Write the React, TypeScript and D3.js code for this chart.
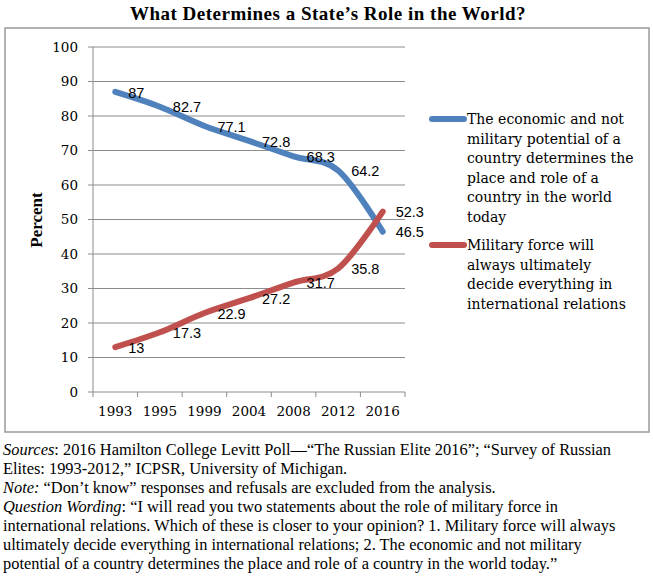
import React from 'react';
import * as d3 from 'd3';

const years = ['1993', '1995', '1999', '2004', '2008', '2012', '2016'];
const economic = [87, 82.7, 77.1, 72.8, 68.3, 64.2, 46.5];
const military = [13, 17.3, 22.9, 27.2, 31.7, 35.8, 52.3];
const yTicks = [0, 10, 20, 30, 40, 50, 60, 70, 80, 90, 100];

const economicLegend = [
  'The economic and not',
  'military potential of a',
  'country determines the',
  'place and role of a',
  'country in the world',
  'today',
];
const militaryLegend = [
  'Military force will',
  'always ultimately',
  'decide everything in',
  'international relations',
];

const BLUE = '#4F81BD';
const RED = '#C0504D';
const GRID = '#8c8c8c';

export default function App() {
  const width = 653;
  const height = 579;

  const x = d3.scalePoint<string>().domain(years).range([93, 405]).padding(0.5);
  const y = d3.scaleLinear().domain([0, 100]).range([392, 47]);
  const step = x.step();

  const line = d3
    .line<number>()
    .x((_, i) => x(years[i]) as number)
    .y(d => y(d))
    .curve(d3.curveCardinal.tension(0));

  const serif = '"Liberation Serif", "Times New Roman", serif';
  const tickFont = '"DejaVu Serif", serif';
  const labelFont = '"Liberation Sans", Arial, sans-serif';

  const series = [
    { values: economic, color: BLUE },
    { values: military, color: RED },
  ];

  return (
    <div style={{ position: 'absolute', left: 0, top: 0 }}>
      <svg width={width} height={height} style={{ display: 'block' }}>
        <rect width={width} height={height} fill="#fff" />
        <text
          x={328}
          y={20}
          textAnchor="middle"
          fontFamily={serif}
          fontWeight="bold"
          fontSize={19}
          letterSpacing={0.5}
        >
          What Determines a State’s Role in the World?
        </text>
        <rect x={5} y={28} width={644} height={404} fill="none" stroke="#9a9a9a" strokeWidth={1.5} />

        {/* grid + y ticks */}
        {yTicks.map(t => (
          <g key={t}>
            <line x1={88} x2={405} y1={y(t)} y2={y(t)} stroke={GRID} strokeWidth={1} />
            <text x={78} y={y(t)} dy="0.36em" textAnchor="end" fontFamily={tickFont} fontSize={13.5} fill="#000">
              {t}
            </text>
          </g>
        ))}
        <line x1={93} x2={93} y1={y(100)} y2={y(0)} stroke={GRID} strokeWidth={1} />

        {/* x ticks */}
        {years.map((yr, i) => (
          <g key={yr}>
            <line
              x1={93 + step * (i + 1)}
              x2={93 + step * (i + 1)}
              y1={y(0)}
              y2={y(0) + 5}
              stroke={GRID}
            />
            <text x={x(yr)} y={416} textAnchor="middle" fontFamily={tickFont} fontSize={13.5}>
              {yr}
            </text>
          </g>
        ))}
        <line x1={93} x2={93} y1={y(0)} y2={y(0) + 5} stroke={GRID} />

        <text
          transform="translate(42,220) rotate(-90)"
          textAnchor="middle"
          fontFamily={serif}
          fontWeight="bold"
          fontSize={17}
        >
          Percent
        </text>

        {/* lines */}
        {series.map(s => (
          <path
            key={s.color}
            d={line(s.values) || ''}
            fill="none"
            stroke={s.color}
            strokeWidth={6}
            strokeLinecap="round"
          />
        ))}

        {/* data labels */}
        {series.map(s =>
          s.values.map((v, i) => (
            <text
              key={s.color + i}
              x={(x(years[i]) as number) + 13}
              y={y(v)}
              dy="0.4em"
              fontFamily={labelFont}
              fontSize={14.5}
            >
              {v}
            </text>
          ))
        )}

        {/* legend */}
        <line x1={432} x2={464} y1={119} y2={119} stroke={BLUE} strokeWidth={6} strokeLinecap="round" />
        {economicLegend.map((l, i) => (
          <text key={l} x={467} y={124 + i * 19.6} fontFamily={tickFont} fontSize={14}>
            {l}
          </text>
        ))}
        <line x1={432} x2={464} y1={245} y2={245} stroke={RED} strokeWidth={6} strokeLinecap="round" />
        {militaryLegend.map((l, i) => (
          <text key={l} x={467} y={250 + i * 19.6} fontFamily={tickFont} fontSize={14}>
            {l}
          </text>
        ))}

        {/* notes */}
        <g fontFamily={serif} fontSize={16.4}>
          <text x={3} y={455}>
            <tspan fontStyle="italic">Sources</tspan>: 2016 Hamilton College Levitt Poll—“The Russian Elite 2016”; “Survey of Russian
          </text>
          <text x={3} y={474}>Elites: 1993-2012,” ICPSR, University of Michigan.</text>
          <text x={3} y={493}>
            <tspan fontStyle="italic">Note:</tspan> “Don’t know” responses and refusals are excluded from the analysis.
          </text>
          <text x={3} y={512}>
            <tspan fontStyle="italic">Question Wording</tspan>: “I will read you two statements about the role of military force in
          </text>
          <text x={3} y={531}>
            international relations. Which of these is closer to your opinion? 1. Military force will always
          </text>
          <text x={3} y={550}>
            ultimately decide everything in international relations; 2. The economic and not military
          </text>
          <text x={3} y={569}>
            potential of a country determines the place and role of a country in the world today.”
          </text>
        </g>
      </svg>
    </div>
  );
}
